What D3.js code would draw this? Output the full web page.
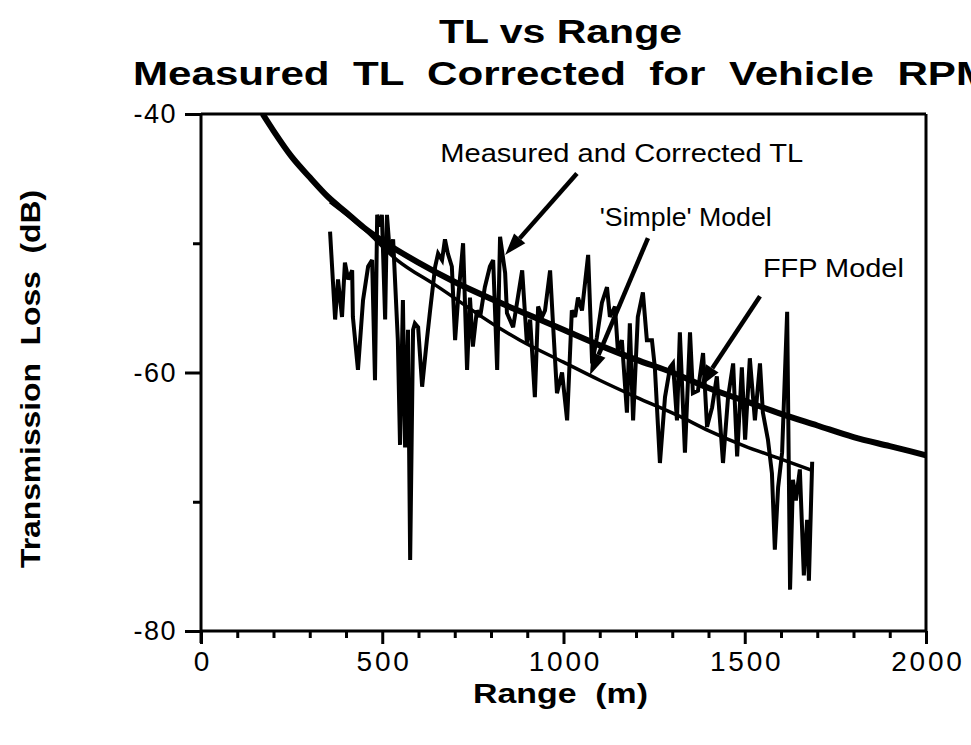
<!DOCTYPE html>
<html><head><meta charset="utf-8">
<script src="https://cdn.jsdelivr.net/npm/d3@7"></script>
<style>
html,body{margin:0;padding:0;background:#fff;overflow:hidden;}
svg{display:block;}
text{font-family:"Liberation Sans",Arial,Helvetica,sans-serif;fill:#000;}
</style></head>
<body>
<svg id="chart" width="971" height="745"></svg>
<script>
// ---------------- data ----------------
const titleLines = ["TL vs Range", "Measured  TL  Corrected  for  Vehicle  RPM"];
const xLabel = "Range  (m)";
const yLabel = "Transmission  Loss  (dB)";
const xTickValues = [0, 500, 1000, 1500, 2000];
const yTickValues = [-40, -60, -80];

// Measured and corrected TL (range m, TL dB)
const measuredRange = [356,370,378,389,397,406,417,419,433,447,461,472,480,486,494,499,508,513,521,530,
  543,549,557,563,571,577,585,590,599,610,623,632,646,654,665,673,681,692,701,709,
  723,734,742,750,761,770,783,797,806,817,825,839,844,861,886,899,908,921,930,941,
  949,963,971,982,996,1010,1023,1032,1040,1051,1068,1079,1092,1106,1120,1128,1142,1150,1161,1175,
  1183,1192,1205,1219,1230,1244,1252,1266,1280,1294,1302,1313,1321,1335,1349,1357,1371,1385,1396,1410,
  1423,1440,1454,1468,1479,1492,1501,1514,1528,1542,1550,1564,1575,1583,1592,1603,1617,1625,1633,1641,
  1652,1663,1672,1677,1686];
const measuredTL = [-49.1,-55.9,-52.8,-55.7,-51.5,-52.8,-52.1,-55.7,-59.8,-54.4,-51.8,-51.3,-60.6,-47.8,-48.7,-47.8,-55.9,-47.8,-50.8,-49.7,
  -57.5,-65.6,-54.4,-65.8,-56.7,-74.5,-56.7,-56.2,-56.5,-61.1,-57.5,-55.2,-51.8,-50.8,-51.3,-49.7,-50.8,-51.8,-57.5,-54.4,
  -50.0,-59.8,-54.2,-58.0,-55.2,-55.7,-53.4,-51.8,-51.3,-59.8,-49.5,-52.3,-55.4,-56.5,-52.1,-57.7,-55.9,-61.9,-54.9,-55.7,
  -55.2,-52.1,-56.2,-61.6,-60.0,-63.7,-55.2,-55.7,-54.2,-55.2,-50.9,-59.3,-57.3,-54.6,-53.4,-55.7,-54.9,-58.3,-57.5,-63.1,
  -56.2,-63.7,-55.7,-53.8,-57.5,-57.5,-59.6,-67.0,-61.9,-59.6,-59.3,-63.7,-56.9,-66.2,-56.9,-61.6,-61.4,-58.5,-64.2,-62.7,
  -60.3,-67.0,-61.9,-59.3,-66.5,-59.6,-65.2,-58.9,-63.7,-59.3,-63.1,-65.2,-67.8,-73.7,-68.9,-66.2,-55.3,-76.8,-68.3,-69.9,
  -67.5,-75.7,-71.4,-76.1,-66.9];

// FFP model
const ffpRange = [170,200,250,300,350,400,450,500,600,700,800,900,1000,1100,1200,1300,1400,1500,1600,1700,1800,1900,2000];
const ffpTL = [-40,-41.3,-43.3,-44.9,-46.4,-47.6,-48.8,-49.8,-51.5,-53.0,-54.3,-55.5,-56.7,-57.9,-59.0,-60.0,-61.2,-62.2,-63.2,-64.1,-65.0,-65.7,-66.4];

// 'Simple' model
const simpleRange = [356,450,541,650,825,880,1000,1100,1200,1321,1400,1500,1600,1688];
const simpleTL = [-46.8,-48.9,-51.3,-53.3,-56.6,-57.5,-59.2,-60.6,-61.9,-63.4,-64.5,-65.7,-66.7,-67.6];

// annotations: label, text start (range, TL), arrow tail and tip (range, TL)
const annoLabels = ["Measured and Corrected TL", "'Simple' Model", "FFP Model"];
const annoTextPos = [[660,-43.7],[1100,-48.7],[1550,-52.6]];
const annoTextLen = [363, 172, 141];
const arrowTail = [[1037,-44.6],[1233,-49.6],[1542,-54.1]];
const arrowTip = [[839,-50.9],[1073,-60.2],[1377,-61.1]];

// ---------------- chart ----------------
const svg = d3.select("#chart");
const m = {left:201, right:926, top:114, bottom:631};
const x = d3.scaleLinear().domain([0,2000]).range([m.left, m.right]);
const y = d3.scaleLinear().domain([-80,-40]).range([m.bottom, m.top]);

svg.append("defs").append("clipPath").attr("id","clip")
  .append("rect").attr("x",m.left).attr("y",m.top).attr("width",m.right-m.left).attr("height",m.bottom-m.top);

// titles
svg.append("text").attr("x",439).attr("y",43).attr("font-size",33).attr("font-weight","bold")
  .attr("textLength",243).attr("lengthAdjust","spacingAndGlyphs").text(titleLines[0]);
svg.append("text").attr("x",133).attr("y",85).attr("font-size",33).attr("font-weight","bold")
  .attr("textLength",858).attr("lengthAdjust","spacingAndGlyphs").style("white-space","pre").text(titleLines[1]);

// frame (top and right)
svg.append("line").attr("x1",m.left).attr("x2",m.right).attr("y1",m.top).attr("y2",m.top).attr("stroke","#000").attr("stroke-width",3);
svg.append("line").attr("x1",m.right).attr("x2",m.right).attr("y1",m.top).attr("y2",m.bottom).attr("stroke","#000").attr("stroke-width",3);

// x axis
const xAxis = d3.axisBottom(x).tickValues(d3.range(0,2001,100)).tickSize(7).tickFormat("");
const gx = svg.append("g").attr("transform",`translate(0,${m.bottom})`).call(xAxis);
gx.select(".domain").attr("stroke-width",3).attr("d",`M${m.left},0H${m.right}`);
gx.selectAll(".tick line").attr("stroke-width",3)
  .attr("y2",d=>xTickValues.includes(d)?13:7);
const gxl = svg.append("g").attr("transform",`translate(0,${m.bottom})`)
  .call(d3.axisBottom(x).tickValues(xTickValues).tickSize(0).tickPadding(20).tickFormat(d=>String(d)));
gxl.select(".domain").remove();
gxl.selectAll("text").attr("font-size",28).attr("letter-spacing",2.8).attr("dx",1.4)
  .attr("font-family",'"Liberation Sans",Arial,sans-serif');

// y axis
const yAxis = d3.axisLeft(y).tickValues(d3.range(-80,-39,10)).tickSize(8).tickFormat("");
const gy = svg.append("g").attr("transform",`translate(${m.left},0)`).call(yAxis);
gy.select(".domain").attr("stroke-width",3).attr("d",`M0,${m.top}V${m.bottom+12}`);
gy.selectAll(".tick line").attr("stroke-width",3).attr("x2",d=>yTickValues.includes(d)?-16:-8);
const gyl = svg.append("g").attr("transform",`translate(${m.left},0)`)
  .call(d3.axisLeft(y).tickValues(yTickValues).tickSize(0).tickPadding(24).tickFormat(d=>String(d)));
gyl.select(".domain").remove();
gyl.selectAll("text").attr("font-size",27).attr("letter-spacing",1.5)
  .attr("font-family",'"Liberation Sans",Arial,sans-serif');

// axis titles
svg.append("text").attr("x",473).attr("y",703)
  .attr("font-size",27).attr("font-weight","bold").style("white-space","pre")
  .attr("textLength",175).attr("lengthAdjust","spacingAndGlyphs").text(xLabel);
svg.append("text").attr("transform",`translate(40,568) rotate(-90)`)
  .attr("font-size",27).attr("font-weight","bold").style("white-space","pre")
  .attr("textLength",378).attr("lengthAdjust","spacingAndGlyphs").text(yLabel);

// lines
const plot = svg.append("g").attr("clip-path","url(#clip)");
const smooth = d3.line().x(d=>x(d[0])).y(d=>y(d[1])).curve(d3.curveMonotoneX);
const straight = d3.line().x(d=>x(d[0])).y(d=>y(d[1]));
plot.append("path").datum(ffpRange.map((r,i)=>[r,ffpTL[i]]))
  .attr("d",smooth).attr("fill","none").attr("stroke","#000").attr("stroke-width",6);
plot.append("path").datum(simpleRange.map((r,i)=>[r,simpleTL[i]]))
  .attr("d",smooth).attr("fill","none").attr("stroke","#000").attr("stroke-width",3.5);
plot.append("path").datum(measuredRange.map((r,i)=>[r,measuredTL[i]]))
  .attr("d",straight).attr("fill","none").attr("stroke","#000").attr("stroke-width",4)
  .attr("stroke-linejoin","miter").attr("stroke-miterlimit",3);

// annotations
annoLabels.forEach((t,i)=>{
  svg.append("text").attr("x",x(annoTextPos[i][0])).attr("y",y(annoTextPos[i][1]))
    .attr("font-size",25).attr("textLength",annoTextLen[i]).attr("lengthAdjust","spacingAndGlyphs").text(t);
  const x1=x(arrowTail[i][0]), y1=y(arrowTail[i][1]), x2=x(arrowTip[i][0]), y2=y(arrowTip[i][1]);
  const ang=Math.atan2(y2-y1,x2-x1), L=22, W=7.5;
  const bx=x2-L*Math.cos(ang), by=y2-L*Math.sin(ang);
  svg.append("line").attr("x1",x1).attr("y1",y1).attr("x2",bx).attr("y2",by).attr("stroke","#000").attr("stroke-width",4.5);
  svg.append("path").attr("d",`M${x2},${y2}L${bx+W*Math.sin(ang)},${by-W*Math.cos(ang)}L${bx-W*Math.sin(ang)},${by+W*Math.cos(ang)}Z`).attr("fill","#000");
});
</script>
</body></html>
